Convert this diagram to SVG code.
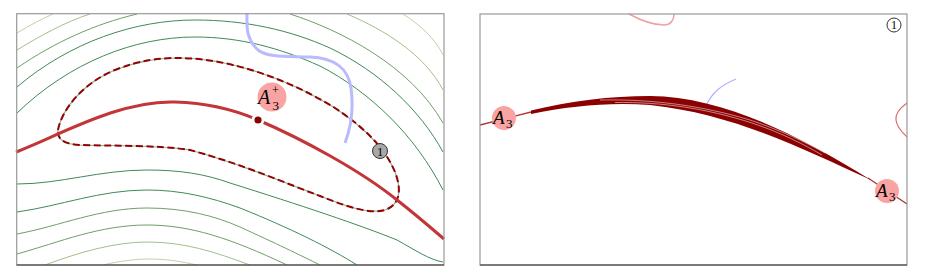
<svg xmlns="http://www.w3.org/2000/svg" width="926" height="278" viewBox="0 0 926 278">
<style>
.frame{fill:none;stroke:#999;stroke-width:1.2}
.fbot{stroke:#333;stroke-width:1.2}
.c{fill:none;stroke-width:1}
.g1{stroke:#c3d1a6}.g2{stroke:#a4bf8c}.g3{stroke:#6f9f68}.g4{stroke:#3f8a57}
.math{font-family:"Liberation Serif","DejaVu Serif",serif;font-style:italic;fill:#000}
.num{font-family:"Liberation Serif","DejaVu Serif",serif;fill:#000}
.lbl{fill:#f9a3a3}
</style>
<rect width="926" height="278" fill="#fff"/>
<g id="left-panel">
  <g id="contours">
    <path class="c g1" d="M17,33 C30,25 42,19 53,14"/>
    <path class="c g2" d="M17,50 C40,36 65,22 90,14"/>
    <path class="c g3" d="M17,68 C55,42 95,24 137,14"/>
    <path class="c g3" d="M290,14 C340,30 410,65 443,123"/>
    <path class="c g2" d="M347,14 C385,30 425,55 443,90"/>
    <path class="c g1" d="M403,14 C420,25 435,38 443,55"/>
    <path class="c g4" d="M17,87 C70,42 135,20 195,20 C245,20 290,30 330,48 C380,72 420,110 443,152"/>
    <path class="c g4" d="M17,113 C70,62 135,37 195,37 C240,37 280,48 320,66 C370,92 415,135 443,190"/>
    <path class="c g4" d="M17,184 C60,184 100,170 147,170 C180,170 205,174 230,183 C300,205 360,225 397,240 C415,250 430,260 443,262"/>
    <path class="c g4" d="M17,212 C60,206 100,190 147,190 C180,190 210,197 240,208 C290,228 330,248 357,265"/>
    <path class="c g3" d="M17,234 C60,226 100,208 147,208 C185,208 215,216 240,227 C275,243 300,255 320,265"/>
    <path class="c g3" d="M17,254 C60,242 100,225 147,225 C190,225 230,238 287,265"/>
    <path class="c g2" d="M45,265 C80,252 115,242 147,242 C185,242 215,252 250,265"/>
    <path class="c g1" d="M103,265 C120,261 135,259 150,259 C168,259 183,262 197,265"/>
  </g>
  <g id="loop">
    <path d="M58,130 C62,108 85,82 115,70 C140,60 160,58 178,58 C230,58 290,80 335,108 C365,128 385,148 395,172 C402,190 400,205 385,210 C370,214 350,208 320,196 C285,183 245,165 190,150 C160,145 110,146 80,145 C62,144 57,138 58,130 Z" fill="none" stroke="#7fb394" stroke-width="1.2"/>
    <path d="M58,130 C62,108 85,82 115,70 C140,60 160,58 178,58 C230,58 290,80 335,108 C365,128 385,148 395,172 C402,190 400,205 385,210 C370,214 350,208 320,196 C285,183 245,165 190,150 C160,145 110,146 80,145 C62,144 57,138 58,130 Z" fill="none" stroke="#960000" stroke-width="2" stroke-dasharray="7 3.5"/>
  </g>
  <path id="blue-curve" d="M247,13 C247,25 245,38 258,50 C268,58 290,56 310,57 C335,58 348,68 351,88 C354,110 350,130 345,143" fill="none" stroke="#babaff" stroke-width="3"/>
  <path id="red-curve" d="M16,152 C60,135 120,100 175,102 C210,103 235,110 258,120 C300,138 360,170 397,200 C415,214 430,227 444,239" fill="none" stroke="#c23538" stroke-width="3"/>
  <g id="dot">
    <circle cx="258" cy="120" r="6.5" fill="#fff"/>
    <circle cx="258" cy="120" r="3.6" fill="#8b0000"/>
  </g>
  <g id="label-A3plus">
    <circle class="lbl" cx="272" cy="97" r="14.5"/>
    <text class="math" x="258" y="104" font-size="20">A</text>
    <text class="num" x="272.5" y="109.5" font-size="13">3</text>
    <text class="num" x="272" y="93.5" font-size="12">+</text>
  </g>
  <g id="badge-1-left">
    <circle cx="380" cy="151" r="7.5" fill="#a8a8a8" stroke="#333" stroke-width="1"/>
    <text class="num" x="380" y="155.5" font-size="12.5" text-anchor="middle">1</text>
  </g>
  <rect class="frame" x="16.7" y="13.7" width="427.3" height="251.3"/>
  <line class="fbot" x1="16.7" y1="265" x2="444" y2="265"/>
</g>
<g id="right-panel">
  <g id="edges">
    <path d="M629,14 C640,20 652,25 664,25 C672,25 674,18 674,14" fill="none" stroke="#f0a0a0" stroke-width="1.5"/>
    <path d="M907,103 C900,108 895,113 896,120 C897,128 903,133 907,137" fill="none" stroke="#dd6a6a" stroke-width="1.2"/>
    <path d="M706,106 C712,92 722,85 736,79" fill="none" stroke="#b0b0ff" stroke-width="1.2"/>
    <path d="M480,125 L531,112" fill="none" stroke="#b03535" stroke-width="1.3"/>
    <path d="M868,178 L907,204" fill="none" stroke="#b03535" stroke-width="1.3"/>
  </g>
  <g id="band">
    <path d="M531,110.5 C570,101 610,96 650,96 C720,97 790,130 871,180 C805,150 735,114 650,105 C610,102 570,106 531,114 Z" fill="#8b0000"/>
    <path d="M600,100 C650,99 700,105 750,120 C780,130 805,142 825,153" fill="none" stroke="#fff" stroke-width="0.6" opacity="0.85"/>
    <path d="M615,102.5 C662,102 705,108 752,123 C782,133 805,145 822,155" fill="none" stroke="#fff" stroke-width="0.6" opacity="0.85"/>
  </g>
  <g id="label-A3-left">
    <circle class="lbl" cx="504" cy="118" r="12"/>
    <text class="math" x="493" y="124" font-size="19">A</text>
    <text class="num" x="506" y="128" font-size="13">3</text>
  </g>
  <g id="label-A3-right">
    <circle class="lbl" cx="887" cy="191" r="12"/>
    <text class="math" x="876" y="197" font-size="19">A</text>
    <text class="num" x="889" y="201" font-size="13">3</text>
  </g>
  <g id="badge-1-right">
    <circle cx="894" cy="25" r="7" fill="#fff" stroke="#333" stroke-width="1"/>
    <text class="num" x="894" y="29.3" font-size="12" text-anchor="middle">1</text>
  </g>
  <rect class="frame" x="480" y="14" width="427" height="251"/>
  <line class="fbot" x1="480" y1="265" x2="907" y2="265"/>
</g>
</svg>
